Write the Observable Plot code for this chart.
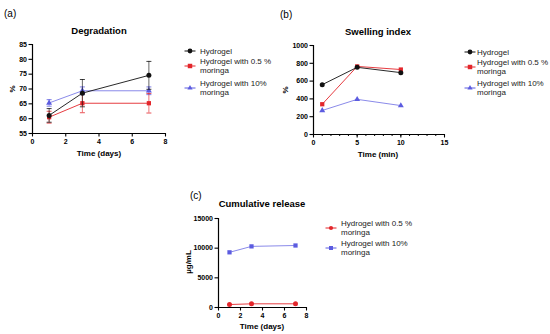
<!DOCTYPE html>
<html><head><meta charset="utf-8">
<script src="https://cdn.jsdelivr.net/npm/d3@7"></script>
<script src="https://cdn.jsdelivr.net/npm/@observablehq/plot@0.6"></script>
<style>
body{margin:0;background:#fff;}
#root{position:relative;width:550px;height:334px;overflow:hidden;font-family:"Liberation Sans",Arial,sans-serif;color:#000;background:#fff;}
.abs{position:absolute;white-space:nowrap;}
.title{font-weight:bold;font-size:9.5px;transform:translate(-50%,-50%);}
.xl{font-weight:bold;font-size:8px;transform:translate(-50%,-50%);}
.yl{font-weight:bold;font-size:8px;transform:translate(-50%,-50%) rotate(-90deg);}
.tag{font-size:10px;transform:translate(0,-50%);}
.leg{font-size:8px;line-height:9px;color:#222;}
svg.plot{position:absolute;}
</style>
</head><body>
<div id="root"></div>
<script>
// ---------- data ----------
const daysA = [1, 3, 7];
const degHydrogel = [61.1, 68.6, 74.6];
const degHydrogelErr = [2.3, 4.6, 4.7];
const degMor05 = [60.5, 65.2, 65.2];
const degMor05Err = [2.0, 3.2, 3.3];
const degMor10 = [65.3, 69.4, 69.4];
const degMor10Err = [1.1, 1.3, 1.3];

const minutesB = [1, 5, 10];
const swHydrogel = [560, 755, 695];
const swMor05 = [340, 765, 730];
const swMor10 = [270, 395, 325];

const daysC = [1, 3, 7];
const relMor05 = [500, 620, 620];
const relMor10 = [9300, 10300, 10450];

const legendHydrogel = ["Hydrogel"];
const legendMor05 = ["Hydrogel with 0.5 %", "moringa"];
const legendMor10 = ["Hydrogel with 10%", "moringa"];

const ticksA_x = [0, 2, 4, 6, 8];
const ticksA_y = [55, 60, 65, 70, 75, 80, 85];
const ticksB_x = [0, 5, 10, 15];
const ticksB_y = [0, 200, 400, 600, 800, 1000];
const ticksC_x = [0, 2, 4, 6, 8];
const ticksC_y = [0, 5000, 10000, 15000];

const cBlack = "#111111", cRed = "#e3262b", cBlue = "#5c5ce0";

// ---------- helpers ----------
const root = document.getElementById("root");
const capSymbol = {draw(ctx, size) { const w = Math.sqrt(size / Math.PI); ctx.moveTo(-w, 0); ctx.lineTo(w, 0); }};

function rows(xs, ys, errs) {
  return xs.map((x, i) => ({x, y: ys[i], lo: errs ? ys[i] - errs[i] : null, hi: errs ? ys[i] + errs[i] : null}));
}

function addText(cls, text, x, y) {
  const d = document.createElement("div");
  d.className = "abs " + cls;
  d.textContent = text;
  d.style.left = x + "px"; d.style.top = y + "px";
  root.appendChild(d);
}

function addLegend(items, symX, textX) {
  for (const it of items) {
    const n = it.lines.length;
    const top = it.y - n * 4.5;
    const div = document.createElement("div");
    div.className = "abs leg";
    div.style.left = textX + "px"; div.style.top = top + "px";
    div.innerHTML = it.lines.map(t => t.replace(/&/g, "&amp;")).join("<br>");
    root.appendChild(div);
    const svg = d3.create("svg").attr("width", 16).attr("height", 10)
      .style("position", "absolute").style("left", (symX - 8) + "px").style("top", (it.y - 5) + "px");
    svg.append("line").attr("x1", 2.5).attr("x2", 13.5).attr("y1", 5).attr("y2", 5).attr("stroke", it.color).attr("stroke-width", 1);
    svg.append("path").attr("transform", "translate(8,5)").attr("d", d3.symbol(it.symbol, it.size)()).attr("fill", it.color);
    root.appendChild(svg.node());
  }
}

function panel(o) {
  const marks = [
    Plot.ruleX([o.xDomain[0]], {stroke: "#000", strokeWidth: 1.2}),
    Plot.ruleY([o.yDomain[0]], {stroke: "#000", strokeWidth: 1.2}),
  ];
  if (o.xMinor) marks.push(Plot.axisX({ticks: o.xMinor, tickSize: 2, text: null, label: null, strokeWidth: 1}));
  marks.push(
    Plot.axisX({ticks: o.xTicks, tickSize: 3.5, tickPadding: 2, label: null, strokeWidth: 1.1, tickFormat: d3.format("d")}),
    Plot.axisY({ticks: o.yTicks, tickSize: 3.5, tickPadding: 2, label: null, strokeWidth: 1.1, tickFormat: d3.format("d")})
  );
  for (const s of o.series) {
    marks.push(Plot.line(s.data, {x: "x", y: "y", stroke: s.color, strokeWidth: 0.9, strokeOpacity: s.lineOpacity ?? 1}));
  }
  for (const s of o.series) {
    if (s.data[0].lo != null) {
      marks.push(
        Plot.ruleX(s.data, {x: "x", y1: "lo", y2: "hi", stroke: s.color, strokeWidth: 0.8, strokeOpacity: 0.8}),
        Plot.dot(s.data, {x: "x", y: "lo", symbol: capSymbol, r: 2.5, stroke: s.color, strokeWidth: 0.8, fill: "none"}),
        Plot.dot(s.data, {x: "x", y: "hi", symbol: capSymbol, r: 2.5, stroke: s.color, strokeWidth: 0.8, fill: "none"})
      );
    }
    marks.push(Plot.dot(s.data, {x: "x", y: "y", symbol: s.symbol, r: s.r, fill: s.color, stroke: "none"}));
  }
  const svg = Plot.plot({
    width: o.width, height: o.height,
    marginTop: o.mt, marginRight: o.mr, marginBottom: o.mb, marginLeft: o.ml,
    x: {domain: o.xDomain}, y: {domain: o.yDomain},
    style: {fontFamily: "Liberation Sans, Arial, sans-serif", fontSize: "7px", fontWeight: "bold", background: "transparent", overflow: "visible"},
    marks
  });
  svg.classList.add("plot");
  svg.style.left = o.left + "px"; svg.style.top = o.top + "px";
  root.appendChild(svg);
}

// ---------- panel (a) ----------
panel({
  left: 0, top: 0, width: 180, height: 165, mt: 44, mr: 15, mb: 32, ml: 32,
  xDomain: [0, 8], yDomain: [55, 85], xTicks: ticksA_x, yTicks: ticksA_y,
  series: [
    {data: rows(daysA, degMor10, degMor10Err), color: cBlue, symbol: "triangle", r: 2.2, lineOpacity: 0.8},
    {data: rows(daysA, degMor05, degMor05Err), color: cRed, symbol: "square", r: 2.4},
    {data: rows(daysA, degHydrogel, degHydrogelErr), color: cBlack, symbol: "circle", r: 2.5},
  ]
});
addText("tag", "(a)", 4, 13);
addText("title", "Degradation", 99, 30);
addText("xl", "Time (days)", 99, 153);
addText("yl", "%", 12, 89);
addLegend([
  {lines: legendHydrogel, y: 51, color: cBlack, symbol: d3.symbolCircle, size: 18},
  {lines: legendMor05, y: 66, color: cRed, symbol: d3.symbolSquare, size: 20},
  {lines: legendMor10, y: 87.5, color: cBlue, symbol: d3.symbolTriangle, size: 12},
], 190, 200);

// ---------- panel (b) ----------
panel({
  left: 275, top: 0, width: 179, height: 164, mt: 45, mr: 10, mb: 30, ml: 38,
  xDomain: [0, 15], yDomain: [0, 1000], xTicks: ticksB_x, yTicks: ticksB_y, xMinor: d3.range(0, 16),
  series: [
    {data: rows(minutesB, swMor10), color: cBlue, symbol: "triangle", r: 2.2, lineOpacity: 0.8},
    {data: rows(minutesB, swMor05), color: cRed, symbol: "square", r: 2.4},
    {data: rows(minutesB, swHydrogel), color: cBlack, symbol: "circle", r: 2.5},
  ]
});
addText("tag", "(b)", 280, 14);
addText("title", "Swelling index", 378, 31);
addText("xl", "Time (min)", 378, 154);
addText("yl", "%", 285, 90);
addLegend([
  {lines: legendHydrogel, y: 52, color: cBlack, symbol: d3.symbolCircle, size: 18},
  {lines: legendMor05, y: 67, color: cRed, symbol: d3.symbolSquare, size: 20},
  {lines: legendMor10, y: 87.5, color: cBlue, symbol: d3.symbolTriangle, size: 12},
], 470, 477);

// ---------- panel (c) ----------
panel({
  left: 180, top: 190, width: 136, height: 147, mt: 28, mr: 10, mb: 30, ml: 38,
  xDomain: [0, 8], yDomain: [0, 15000], xTicks: ticksC_x, yTicks: ticksC_y,
  series: [
    {data: rows(daysC, relMor10), color: cBlue, symbol: "square", r: 2.4, lineOpacity: 0.8},
    {data: rows(daysC, relMor05), color: cRed, symbol: "circle", r: 2.5},
  ]
});
addText("tag", "(c)", 190, 195);
addText("title", "Cumulative release", 262, 203);
addText("xl", "Time (days)", 262, 326);
addText("yl", "µg/mL", 188, 262);
addLegend([
  {lines: legendMor05, y: 228, color: cRed, symbol: d3.symbolCircle, size: 14},
  {lines: legendMor10, y: 248, color: cBlue, symbol: d3.symbolSquare, size: 16},
], 331, 341);
</script>
</body></html>
